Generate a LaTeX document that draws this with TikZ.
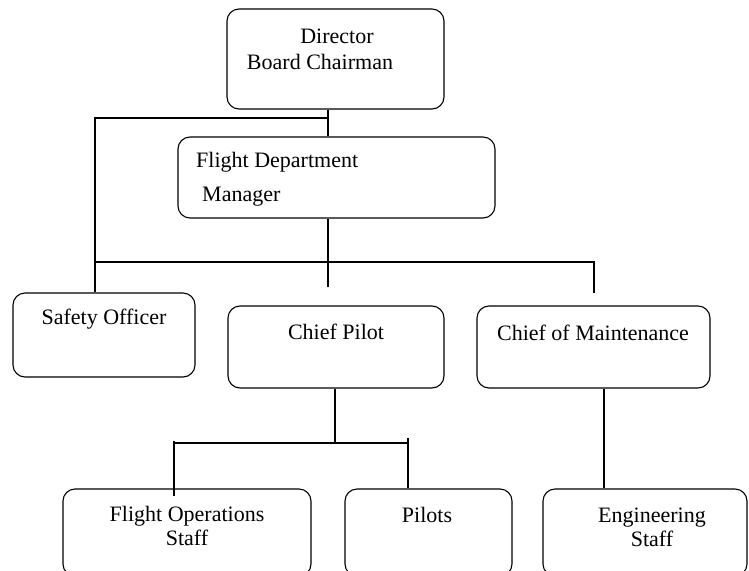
\documentclass[tikz,border=0pt]{standalone}
\usepackage{fontspec}
\setmainfont{Liberation Serif}
\begin{document}
\begin{tikzpicture}[x=1pt,y=-1pt,
  box/.style={draw,line width=1.1pt,rounded corners=12pt,inner sep=0pt},
  lbl/.style={inner sep=0pt,font=\fontsize{22}{24}\selectfont,align=center},
  con/.style={line width=1.1pt}]
\useasboundingbox (0,0) rectangle (749,570);
\clip (0,0) rectangle (749,570);
\node[box,minimum width=217pt,minimum height=100pt] (dir) at (335.5,59) {};
\node[box,minimum width=317pt,minimum height=81pt] (fdm) at (336.5,177.5) {};
\node[box,minimum width=182pt,minimum height=84pt] (so) at (104,335) {};
\node[box,minimum width=216pt,minimum height=82pt] (cp) at (336,347) {};
\node[box,minimum width=233pt,minimum height=82pt] (com) at (593.5,347) {};
\node[box,minimum width=248pt,minimum height=87pt] (fos) at (187,532.5) {};
\node[box,minimum width=167pt,minimum height=87pt] (pil) at (428.5,532.5) {};
\node[box,minimum width=204pt,minimum height=87pt] (eng) at (645,532.5) {};
\node[lbl] (t1) at (337,36) {Director};
\node[lbl] (t2) at (320,62) {Board Chairman};
\node[lbl,anchor=west] (t3) at (196,162) {Flight Department};
\node[lbl,anchor=west] (t4) at (202,197) {Manager};
\node[lbl] (t5) at (104,319) {Safety Officer};
\node[lbl] (t6) at (336,332) {Chief Pilot};
\node[lbl] (t7) at (593,333) {Chief of Maintenance};
\node[lbl] (t8) at (187,526) {Flight Operations\\Staff};
\node[lbl] (t9) at (427,515) {Pilots};
\node[lbl] (t10) at (652,527) {Engineering\\Staff};
\coordinate (j1) at (328,118);
\coordinate (l1) at (95,118);
\coordinate (h1) at (95,262);
\coordinate (h2) at (328,262);
\coordinate (h3) at (594,262);
\coordinate (e2) at (328,287);
\coordinate (e3) at (594,293);
\coordinate (k1) at (335,443);
\coordinate (k2) at (174,443);
\coordinate (k3) at (408,443);
\coordinate (k2t) at (174,441);
\coordinate (k2b) at (174,496);
\coordinate (k3t) at (408,438);
\draw[con] (dir.south -| j1) -- (fdm.north -| j1);
\draw[con] (j1) -- (l1) -- (so.north -| l1);
\draw[con] (fdm.south -| h2) -- (e2);
\draw[con] (h1) -- (h3) -- (e3);
\draw[con] (cp.south -| k1) -- (k1);
\draw[con] (k2) -- (k3);
\draw[con] (k2t) -- (k2b);
\draw[con] (k3t) -- (pil.north -| k3);
\draw[con] (com.south -| 604,0) -- (eng.north -| 604,0);
\end{tikzpicture}
\end{document}
